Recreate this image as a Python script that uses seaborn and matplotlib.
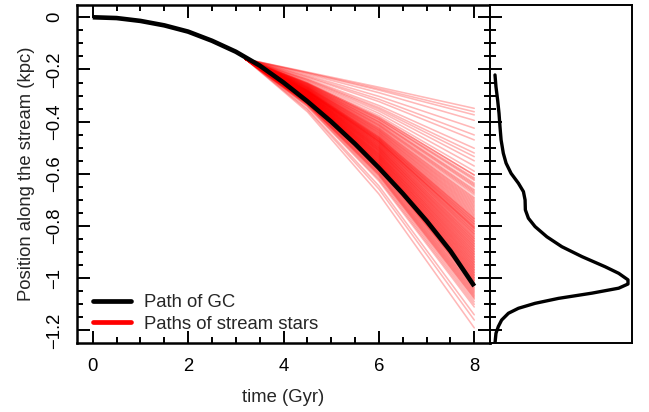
import numpy as np
import pandas as pd
import matplotlib
matplotlib.use("Agg")
import matplotlib.pyplot as plt
from matplotlib.lines import Line2D
from matplotlib.ticker import MultipleLocator
import seaborn as sns

# ----------------------------
# data
# ----------------------------
# path of the globular cluster
gc_time = [0, 0.5, 1, 1.5, 2, 2.5, 3, 3.5, 4, 4.5, 5, 5.5, 6, 6.5, 7, 7.5, 8]
gc_pos = [0, -0.003, -0.014, -0.031, -0.055, -0.09, -0.132, -0.185, -0.25,
          -0.322, -0.4, -0.485, -0.577, -0.675, -0.78, -0.895, -1.03]

# stream stars: common release point, then position at t = 4.5, 6 and 8 Gyr
release_time = 3.2
release_pos = -0.16
star_pos_45 = [-0.210, -0.212, -0.214, -0.218, -0.223, -0.227, -0.230, -0.235,
               -0.238, -0.240, -0.243, -0.246, -0.250, -0.252, -0.255, -0.257,
               -0.260, -0.262, -0.265, -0.267, -0.269, -0.272, -0.274, -0.277,
               -0.279, -0.281, -0.283, -0.284, -0.285, -0.287, -0.289, -0.291,
               -0.292, -0.294, -0.296, -0.297, -0.299, -0.301, -0.302, -0.304,
               -0.306, -0.307, -0.309, -0.310, -0.312, -0.314, -0.315, -0.317,
               -0.319, -0.320, -0.325, -0.328, -0.332, -0.337, -0.342, -0.350,
               -0.355, -0.362,
               -0.252, -0.255, -0.259, -0.261, -0.264, -0.266, -0.269, -0.271,
               -0.274, -0.276, -0.278, -0.280, -0.282, -0.283, -0.285, -0.286,
               -0.288, -0.290, -0.292, -0.293, -0.295, -0.296, -0.298, -0.300,
               -0.301, -0.303, -0.305, -0.306, -0.308, -0.310, -0.311, -0.313,
               -0.315, -0.316, -0.318, -0.320, -0.321, -0.323, -0.327, -0.331,
               -0.335, -0.340,
               -0.254, -0.258, -0.263, -0.268, -0.270, -0.273, -0.275, -0.278,
               -0.280, -0.281, -0.283, -0.284, -0.286, -0.288, -0.289, -0.290,
               -0.292, -0.294, -0.295, -0.297, -0.299, -0.300, -0.302, -0.304,
               -0.305, -0.307, -0.309, -0.310, -0.312, -0.313, -0.315, -0.317,
               -0.318, -0.320, -0.322, -0.326, -0.330, -0.333]
star_pos_6 = [-0.268, -0.274, -0.279, -0.289, -0.303, -0.314, -0.323, -0.338,
              -0.346, -0.352, -0.359, -0.368, -0.377, -0.384, -0.391, -0.398,
              -0.405, -0.411, -0.419, -0.425, -0.432, -0.439, -0.445, -0.452,
              -0.459, -0.464, -0.468, -0.473, -0.476, -0.481, -0.485, -0.491,
              -0.495, -0.500, -0.504, -0.509, -0.513, -0.518, -0.523, -0.527,
              -0.532, -0.536, -0.541, -0.545, -0.550, -0.554, -0.559, -0.563,
              -0.568, -0.572, -0.583, -0.593, -0.602, -0.615, -0.627, -0.646,
              -0.658, -0.677,
              -0.384, -0.393, -0.402, -0.409, -0.416, -0.423, -0.430, -0.436,
              -0.443, -0.450, -0.457, -0.461, -0.466, -0.470, -0.475, -0.478,
              -0.483, -0.488, -0.493, -0.498, -0.502, -0.507, -0.511, -0.516,
              -0.520, -0.525, -0.529, -0.534, -0.538, -0.543, -0.548, -0.552,
              -0.557, -0.561, -0.566, -0.570, -0.575, -0.580, -0.590, -0.599,
              -0.608, -0.621,
              -0.389, -0.400, -0.414, -0.427, -0.434, -0.441, -0.448, -0.455,
              -0.460, -0.465, -0.469, -0.474, -0.477, -0.482, -0.486, -0.490,
              -0.494, -0.499, -0.503, -0.508, -0.512, -0.517, -0.522, -0.526,
              -0.531, -0.535, -0.540, -0.544, -0.549, -0.554, -0.558, -0.562,
              -0.567, -0.571, -0.576, -0.586, -0.596, -0.605]
star_pos_8 = [-0.349, -0.362, -0.374, -0.395, -0.425, -0.451, -0.47, -0.502,
              -0.52, -0.534, -0.55, -0.57, -0.59, -0.604, -0.62, -0.635,
              -0.65, -0.665, -0.681, -0.695, -0.71, -0.725, -0.74, -0.755,
              -0.77, -0.78, -0.79, -0.80, -0.808, -0.818, -0.828, -0.84,
              -0.85, -0.86, -0.87, -0.88, -0.89, -0.90, -0.91, -0.92,
              -0.93, -0.94, -0.95, -0.96, -0.97, -0.98, -0.99, -1.00,
              -1.01, -1.02, -1.04, -1.055, -1.07, -1.09, -1.11, -1.14,
              -1.16, -1.19,
              -0.605, -0.625, -0.645, -0.66, -0.675, -0.69, -0.705, -0.72,
              -0.735, -0.75, -0.765, -0.775, -0.785, -0.795, -0.805, -0.813,
              -0.823, -0.833, -0.845, -0.855, -0.865, -0.875, -0.885, -0.895,
              -0.905, -0.915, -0.925, -0.935, -0.945, -0.955, -0.965, -0.975,
              -0.985, -0.995, -1.005, -1.015, -1.025, -1.035, -1.05, -1.065,
              -1.08, -1.10,
              -0.615, -0.64, -0.67, -0.70, -0.715, -0.73, -0.745, -0.76,
              -0.772, -0.782, -0.792, -0.802, -0.81, -0.82, -0.83, -0.838,
              -0.848, -0.858, -0.868, -0.878, -0.888, -0.898, -0.908, -0.918,
              -0.928, -0.938, -0.948, -0.958, -0.968, -0.978, -0.988, -0.998,
              -1.008, -1.018, -1.028, -1.045, -1.06, -1.075]

# density of the final positions (right panel)
dens_pos = [-0.221, -0.266, -0.317, -0.368, -0.419, -0.470, -0.521, -0.559,
            -0.598, -0.636, -0.668, -0.700, -0.738, -0.770, -0.802, -0.841,
            -0.879, -0.917, -0.956, -0.981, -1.006, -1.022, -1.038, -1.057,
            -1.077, -1.096, -1.115, -1.134, -1.160, -1.185, -1.211, -1.249]
dens_val = [0.036, 0.043, 0.055, 0.065, 0.072, 0.080, 0.096, 0.116,
            0.152, 0.205, 0.241, 0.253, 0.255, 0.277, 0.325, 0.410,
            0.518, 0.663, 0.831, 0.928, 0.995, 0.995, 0.928, 0.735,
            0.494, 0.325, 0.205, 0.133, 0.084, 0.060, 0.043, 0.036]

x_ticks = [0, 2, 4, 6, 8]
y_ticks = [0, -0.2, -0.4, -0.6, -0.8, -1, -1.2]
y_tick_labels = ["0", "\u22120.2", "\u22120.4", "\u22120.6", "\u22120.8", "\u22121", "\u22121.2"]

# long-form table for the star paths
times = [release_time, 4.5, 6, 8]
rows = []
for i in range(len(star_pos_8)):
    for t, p in zip(times, [release_pos, star_pos_45[i], star_pos_6[i], star_pos_8[i]]):
        rows.append({"star": i, "time": t, "pos": p})
stars = pd.DataFrame(rows)

# ----------------------------
# plot
# ----------------------------
sns.set_style("white")
plt.rcParams["font.family"] = ["Liberation Sans", "DejaVu Sans"]
plt.rcParams["font.size"] = 13.3
plt.rcParams["axes.linewidth"] = 1.8

fig = plt.figure(figsize=(6.49, 4.12), dpi=100)
ax = fig.add_axes([77 / 649, 1 - 343 / 412, 413 / 649, 338 / 412])
ax2 = fig.add_axes([490 / 649, 1 - 343 / 412, 142 / 649, 338 / 412])

sns.lineplot(data=stars, x="time", y="pos", units="star", estimator=None,
             color="red", alpha=0.28, lw=1.15, ax=ax, legend=False)
sns.lineplot(x=gc_time, y=gc_pos, color="black", lw=3.3, ax=ax,
             solid_capstyle="butt")

ax.set_xlim(-0.33, 8.33)
ax.set_ylim(-1.248, 0.047)
ax.set_xticks(x_ticks)
ax.xaxis.set_minor_locator(MultipleLocator(0.5))
ax.set_yticks(y_ticks, y_tick_labels)
ax.yaxis.set_minor_locator(MultipleLocator(0.05))
ax.tick_params(which="both", direction="in", top=True, right=False,
               bottom=True, left=True, width=1.4, colors="black")
ax.tick_params(which="major", length=9)
ax.tick_params(which="minor", length=4.5)
ax.tick_params(axis="x", pad=11)
ax.tick_params(axis="y", pad=10, labelrotation=90)
for lab in ax.get_yticklabels():
    lab.set_va("center")
ax.set_xlabel("time (Gyr)", labelpad=10)
ax.set_ylabel("Position along the stream (kpc)", labelpad=8)
for s in ax.spines.values():
    s.set_color("black")

handles = [Line2D([], [], color="black", lw=3.4),
           Line2D([], [], color="red", lw=3.4)]
ax.legend(handles, ["Path of GC", "Paths of stream stars"], loc="lower left",
          bbox_to_anchor=(0.038, 0.03), frameon=False, borderaxespad=0,
          borderpad=0, handlelength=2.05, handletextpad=0.75, labelspacing=0.25)

# right panel: density of positions
sns.lineplot(x=dens_val, y=dens_pos, orient="y", estimator=None, color="black",
             lw=2.4, ax=ax2)
ax2.set_ylim(-1.248, 0.047)
ax2.set_xlim(0, 1.024)
ax2.set_xticks([])
ax2.set_yticks(y_ticks, [""] * len(y_ticks))
ax2.yaxis.set_minor_locator(MultipleLocator(0.05))
ax2.tick_params(axis="y", which="both", direction="inout", left=True,
                labelleft=False, width=1.4, colors="black")
ax2.tick_params(axis="y", which="major", length=17)
ax2.tick_params(axis="y", which="minor", length=8.5)
ax2.set_xlabel("")
ax2.set_ylabel("")
for s in ax2.spines.values():
    s.set_color("black")
    s.set_linewidth(1.4)

fig.savefig("out.png", dpi=100)
